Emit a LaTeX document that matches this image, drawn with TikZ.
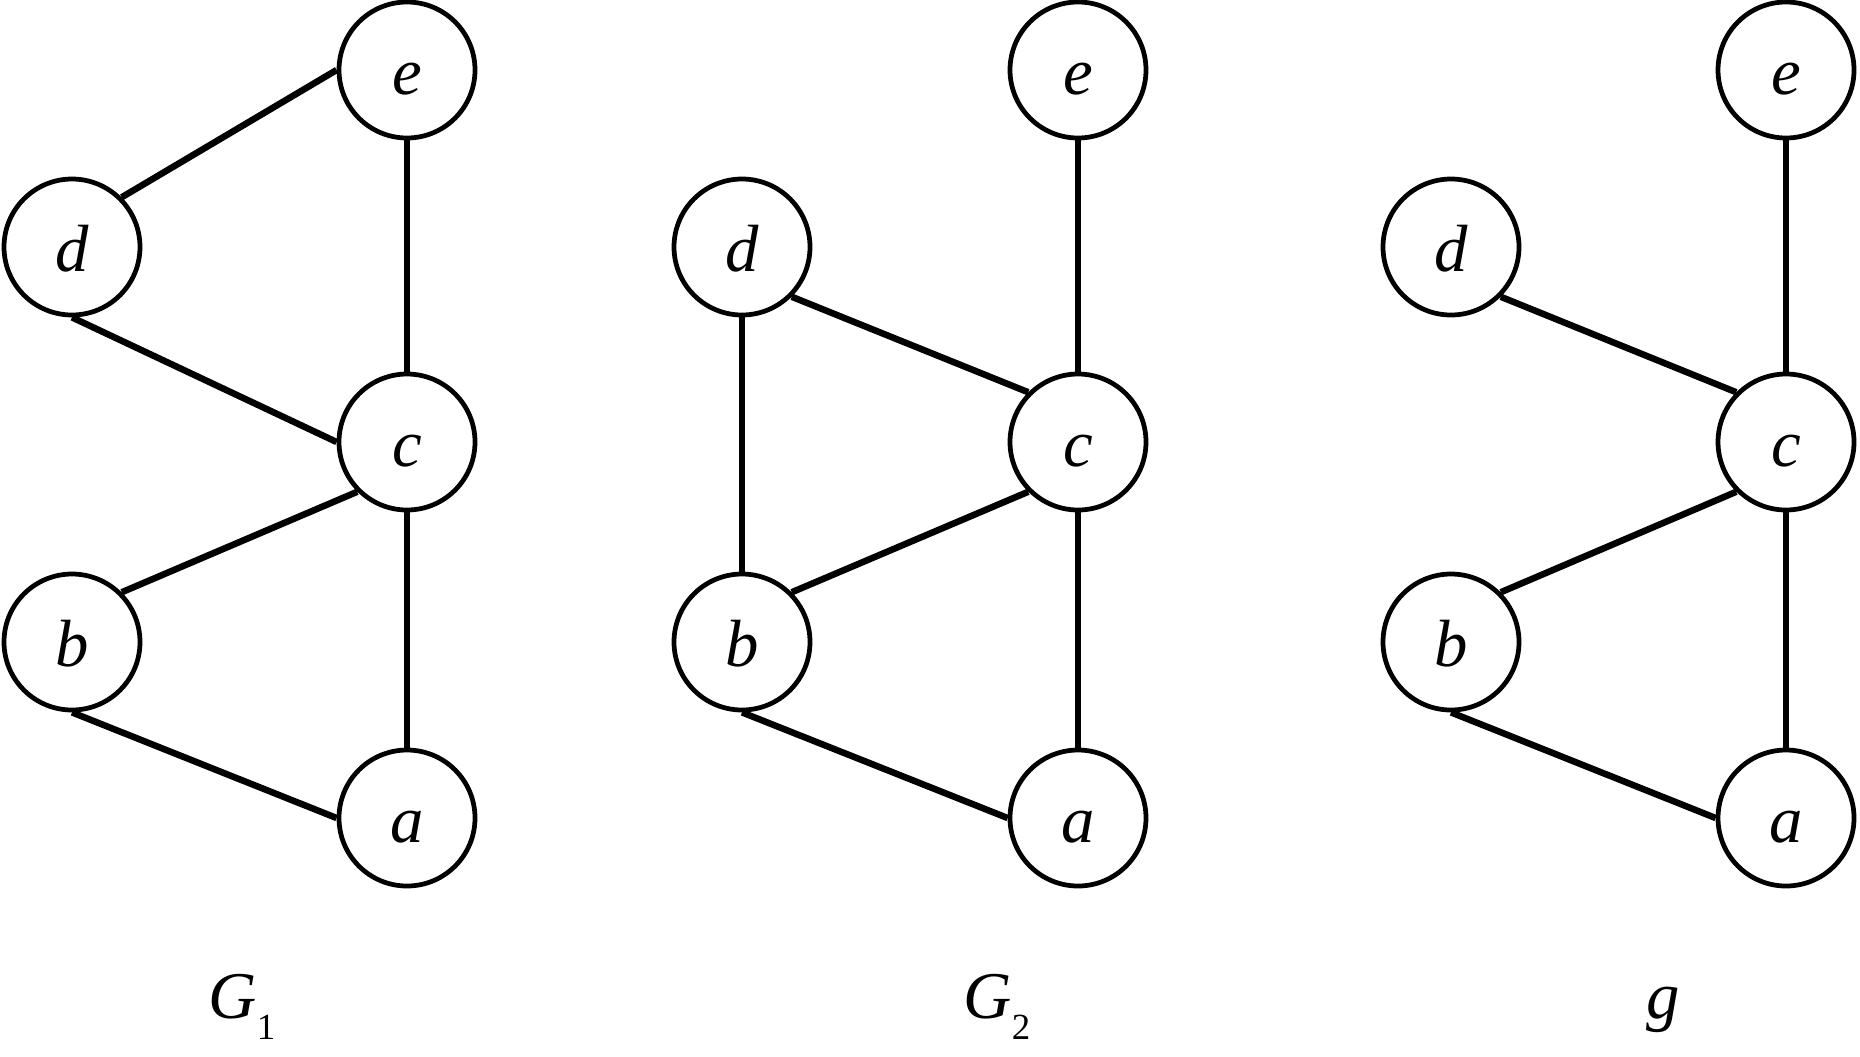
\documentclass[tikz,border=0pt]{standalone}
\usepackage{fontspec}
\setmainfont{Liberation Serif}
\usepackage{tikz}
\usetikzlibrary{positioning}
\tikzset{
	% vertice
	vertice/.style={
		circle,
		draw,
		line width=1.35pt,
		minimum size=1.36cm,
		inner sep=0pt,
		text height=0.48cm,
		text depth=0pt,
		font=\fontsize{19}{22}\selectfont\itshape
	}, %
	% aresta
	aresta/.style={
		line width=1.85pt
	}, %
	% nome do grafo
	rotulo/.style={
		anchor=base,
		inner sep=0pt,
		font=\fontsize{19}{22}\selectfont
	} %
}
\newcommand{\gsub}[1]{\raisebox{-6.2pt}{\fontsize{10.5}{12}\selectfont #1}}

\begin{document}
\begin{tikzpicture}
			\useasboundingbox (0,0) rectangle (18.6,-10.56);
			
			% grafo G1
			\node[vertice] (e1) at (4.07,-0.70) {e};
			\node[vertice] (d1) at (0.72,-2.47) {d};
			\node[vertice] (c1) at (4.07,-4.42) {c};
			\node[vertice] (b1) at (0.72,-6.42) {b};
			\node[vertice] (a1) at (4.07,-8.18) {a};
			
			\draw[aresta] (d1.north east)--(e1.west);
			\draw[aresta] (e1.south)--(c1.north);
			\draw[aresta] (d1.south)--(c1.west);
			\draw[aresta] (c1.south west)--(b1.north east);
			\draw[aresta] (c1.south)--(a1.north);
			\draw[aresta] (b1.south)--(a1.west);
			
			% grafo G2
			\node[vertice] (e2) at (10.78,-0.70) {e};
			\node[vertice] (d2) at (7.42,-2.47) {d};
			\node[vertice] (c2) at (10.78,-4.42) {c};
			\node[vertice] (b2) at (7.42,-6.42) {b};
			\node[vertice] (a2) at (10.78,-8.18) {a};
			
			\draw[aresta] (e2.south)--(c2.north);
			\draw[aresta] (d2.south)--(b2.north);
			\draw[aresta] (d2.south east)--(c2.north west);
			\draw[aresta] (c2.south west)--(b2.north east);
			\draw[aresta] (c2.south)--(a2.north);
			\draw[aresta] (b2.south)--(a2.west);
			
			% grafo g
			\node[vertice] (e3) at (17.86,-0.70) {e};
			\node[vertice] (d3) at (14.51,-2.47) {d};
			\node[vertice] (c3) at (17.86,-4.42) {c};
			\node[vertice] (b3) at (14.51,-6.42) {b};
			\node[vertice] (a3) at (17.86,-8.18) {a};
			
			\draw[aresta] (e3.south)--(c3.north);
			\draw[aresta] (d3.south east)--(c3.north west);
			\draw[aresta] (c3.south west)--(b3.north east);
			\draw[aresta] (c3.south)--(a3.north);
			\draw[aresta] (b3.south)--(a3.west);
			
			% nomes
			\node[rotulo] (g1lab) at (2.42,-10.18) {\textit{G}\gsub{1}};
			\node[rotulo] (g2lab) at (9.97,-10.18) {\textit{G}\gsub{2}};
			\node[rotulo] (g3lab) at (16.63,-10.18) {\textit{g}};
\end{tikzpicture}
\end{document}
